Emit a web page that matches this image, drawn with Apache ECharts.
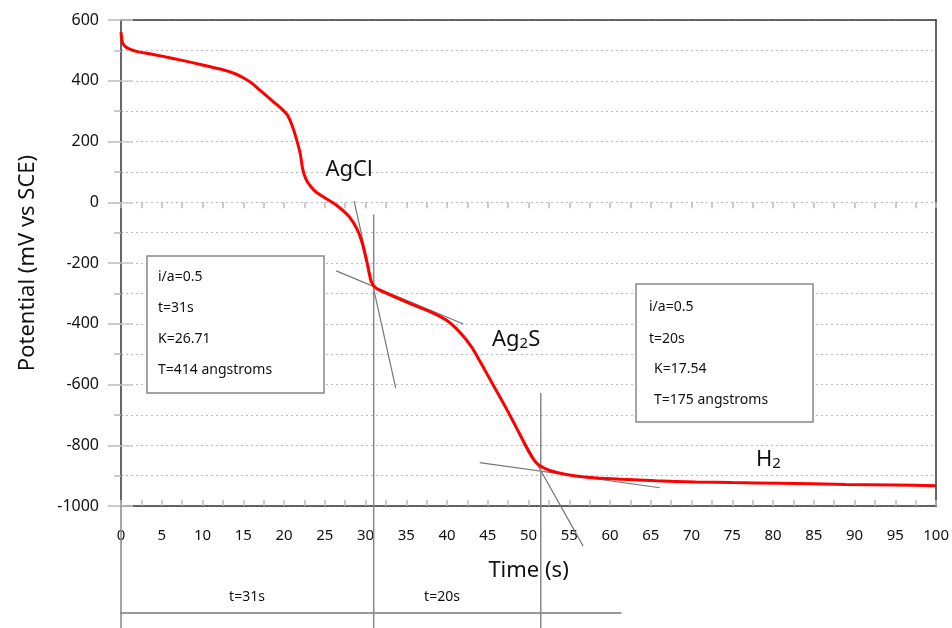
<!DOCTYPE html>
<html>
<head>
<meta charset="utf-8">
<script src="https://cdn.jsdelivr.net/npm/echarts@6/dist/echarts.min.js"></script>
<style>
  html, body { margin: 0; padding: 0; background: #fff; }
  #chart { width: 952px; height: 628px; }
</style>
</head>
<body>
<div id="chart"></div>
<script>
// discharge curve
const timeS = [0, 0.15, 0.5, 1, 2, 3.5, 5, 7.5, 10, 12.5, 14, 15, 16, 17, 18, 19, 20, 20.5, 21, 21.5, 22, 22.3, 22.7, 23.3, 24, 24.8, 26.4, 28, 29, 29.6, 30.2, 30.7, 31.3, 33, 35.4, 37.9, 39.9, 41.5, 43, 44, 45, 46, 47, 48, 49, 50, 50.7, 51.3, 52.6, 54.6, 57.5, 61.5, 65.6, 70.5, 75, 80.8, 88.9, 95, 100];
const potential = [560, 528, 513, 505, 496, 489, 481, 467, 452, 436, 423, 410, 393, 370, 347, 324, 300, 283, 252, 210, 158, 108, 75, 51, 32, 18, -9, -48, -91, -135, -201, -262, -283, -305, -333, -360, -388, -426, -476, -522, -570, -618, -666, -716, -768, -820, -850, -866, -883, -896, -906, -912, -917, -921, -923, -925, -929, -931, -933];

// tangent construction lines
const agclSteep = [[28.6, 4], [33.7, -611]];
const agclFlat = [[26.4, -226], [42.0, -401]];
const ag2sSteep = [[43.75, -513], [56.7, -1132]];
const ag2sFlat = [[44.0, -857], [66.1, -940]];
const markerLines = [
  [[0, -1000], [0, -1402]],
  [[31, -40], [31, -1402]],
  [[51.5, -628], [51.5, -1402]]
];
const baseLine = [[-5, -1352], [61.4, -1352]];

const xTicks = { min: 0, max: 100, interval: 5 };
const yTicks = { min: -1000, max: 600, interval: 200 };

const font = "'Comic Sans MS', 'Noto Sans', sans-serif";

const chart = echarts.init(document.getElementById('chart'));

const curvePoints = timeS.map((t, i) => [t, potential[i]]);

function grayLine(data, color, width) {
  return {
    type: 'line',
    data: data,
    symbol: 'none',
    clip: false,
    silent: true,
    lineStyle: { color: color, width: width },
    z: 3
  };
}

const series = [
  grayLine(agclSteep, '#777', 1.2),
  grayLine(agclFlat, '#777', 1.2),
  grayLine(ag2sSteep, '#777', 1.2),
  grayLine(ag2sFlat, '#777', 1.2),
  grayLine(baseLine, '#999', 2)
];
markerLines.forEach(l => series.push(grayLine(l, '#888', 1.5)));
series.push({
  type: 'line',
  data: curvePoints,
  symbol: 'none',
  smooth: 0.25,
  lineStyle: { color: '#ff0000', width: 3 },
  z: 5
});

const boxText = { fontFamily: font, fontSize: 14, fill: '#111' };
const frameLine = { show: true, onZero: false, lineStyle: { color: '#333', width: 1.5 } };
const tickGray = { color: '#bbb', width: 1.5 };

const option = {
  animation: false,
  grid: { left: 121, right: 15, top: 20, bottom: 122 },
  xAxis: [{
    type: 'value',
    min: xTicks.min, max: xTicks.max, interval: xTicks.interval,
    name: 'Time (s)', nameLocation: 'middle', nameGap: 54,
    nameTextStyle: { fontFamily: font, fontSize: 22, color: '#111' },
    axisLine: frameLine,
    axisTick: { show: true, inside: true, length: 6, lineStyle: tickGray },
    minorTick: { show: true, splitNumber: 2, length: 6, lineStyle: tickGray },
    axisLabel: { fontFamily: font, fontSize: 15, color: '#111', margin: 22 },
    splitLine: { show: false }
  }, {
    type: 'value', position: 'bottom',
    min: xTicks.min, max: xTicks.max, interval: xTicks.interval,
    axisLine: { show: false },
    axisTick: { show: true, inside: false, length: 6, lineStyle: tickGray },
    minorTick: { show: true, splitNumber: 2, length: 6, lineStyle: tickGray },
    axisLabel: { show: false },
    splitLine: { show: false }
  }, {
    type: 'value', position: 'top',
    min: xTicks.min, max: xTicks.max,
    axisLine: frameLine, axisTick: { show: false }, axisLabel: { show: false }, splitLine: { show: false }
  }],
  yAxis: [{
    type: 'value',
    min: yTicks.min, max: yTicks.max, interval: yTicks.interval,
    name: 'Potential (mV vs SCE)', nameLocation: 'middle', nameGap: 82,
    nameTextStyle: { fontFamily: font, fontSize: 22, color: '#111' },
    axisLine: frameLine,
    axisTick: { show: true, length: 13, lineStyle: tickGray },
    minorTick: { show: true, splitNumber: 2, length: 7, lineStyle: tickGray },
    axisLabel: { fontFamily: font, fontSize: 16, color: '#111', margin: 22, formatter: v => String(v) },
    splitLine: { show: true, lineStyle: { color: '#bbb', type: [2, 3], width: 1 } },
    minorSplitLine: { show: true, lineStyle: { color: '#bbb', type: [2, 3], width: 1 } }
  }, {
    type: 'value', position: 'left',
    min: yTicks.min, max: yTicks.max, interval: yTicks.interval,
    axisLine: { show: false },
    axisTick: { show: true, inside: true, length: 12, lineStyle: { color: '#ccc', width: 1.5 } },
    axisLabel: { show: false },
    splitLine: { show: false }
  }, {
    type: 'value', position: 'right',
    min: yTicks.min, max: yTicks.max,
    axisLine: frameLine, axisTick: { show: false }, axisLabel: { show: false }, splitLine: { show: false }
  }],
  series: series,
  graphic: [
    { type: 'rect', shape: { x: 147, y: 256, width: 177, height: 137 },
      style: { fill: '#fff', stroke: '#888', lineWidth: 1.5 }, z: 10 },
    { type: 'text', x: 158, y: 277, style: Object.assign({ text: 'i/a=0.5', verticalAlign: 'middle' }, boxText), z: 11 },
    { type: 'text', x: 158, y: 308, style: Object.assign({ text: 't=31s', verticalAlign: 'middle' }, boxText), z: 11 },
    { type: 'text', x: 158, y: 339, style: Object.assign({ text: 'K=26.71', verticalAlign: 'middle' }, boxText), z: 11 },
    { type: 'text', x: 158, y: 370, style: Object.assign({ text: 'T=414 angstroms', verticalAlign: 'middle' }, boxText), z: 11 },

    { type: 'rect', shape: { x: 636, y: 284, width: 177, height: 138 },
      style: { fill: '#fff', stroke: '#888', lineWidth: 1.5 }, z: 10 },
    { type: 'text', x: 649, y: 307, style: Object.assign({ text: 'i/a=0.5', verticalAlign: 'middle' }, boxText), z: 11 },
    { type: 'text', x: 649, y: 339, style: Object.assign({ text: 't=20s', verticalAlign: 'middle' }, boxText), z: 11 },
    { type: 'text', x: 654, y: 369, style: Object.assign({ text: 'K=17.54', verticalAlign: 'middle' }, boxText), z: 11 },
    { type: 'text', x: 654, y: 400, style: Object.assign({ text: 'T=175 angstroms', verticalAlign: 'middle' }, boxText), z: 11 },

    { type: 'text', x: 349, y: 170, style: { text: 'AgCl', fontFamily: font, fontSize: 22, fill: '#111', align: 'center', verticalAlign: 'middle' }, z: 11 },
    { type: 'text', x: 492, y: 340, style: {
        text: '{a|Ag}{s|2}{a|S}', fill: '#111', verticalAlign: 'middle',
        rich: { a: { fontFamily: font, fontSize: 22, fill: '#111' }, s: { fontFamily: font, fontSize: 15, fill: '#111', padding: [8, 0, 0, 0] } }
      }, z: 11 },
    { type: 'text', x: 756, y: 460, style: {
        text: '{a|H}{s|2}', fill: '#111', verticalAlign: 'middle',
        rich: { a: { fontFamily: font, fontSize: 22, fill: '#111' }, s: { fontFamily: font, fontSize: 15, fill: '#111', padding: [8, 0, 0, 0] } }
      }, z: 11 },

    { type: 'text', x: 247, y: 597, style: { text: 't=31s', fontFamily: font, fontSize: 14, fill: '#111', align: 'center', verticalAlign: 'middle' } },
    { type: 'text', x: 442, y: 597, style: { text: 't=20s', fontFamily: font, fontSize: 14, fill: '#111', align: 'center', verticalAlign: 'middle' } }
  ]
};

chart.setOption(option);
</script>
</body>
</html>
